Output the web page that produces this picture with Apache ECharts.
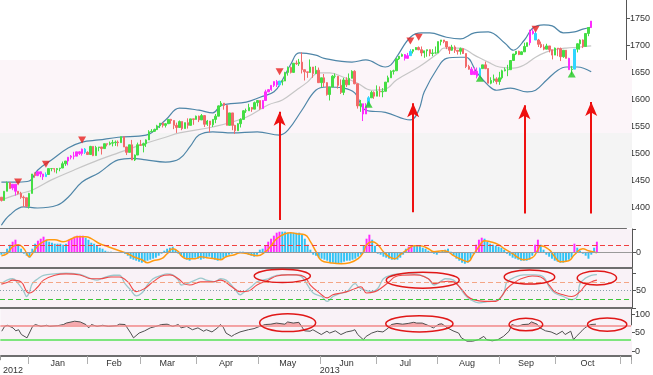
<!DOCTYPE html>
<html><head><meta charset="utf-8">
<script src="https://cdn.jsdelivr.net/npm/echarts@6/dist/echarts.min.js"></script>
<style>html,body{margin:0;padding:0;background:#fff}#c{width:653px;height:375px}</style>
</head><body><div id="c"></div>
<script>
// ---- daily candles [open, close, low, high], one array per month ----
const dec12=[[1419,1413,1411,1419],[1413,1430,1413,1430],[1430,1446,1430,1448],[1446,1435,1435,1447],[1436,1443,1432,1443],[1443,1430,1422,1443],[1430,1426,1424,1430],[1426,1419,1416,1429],[1419,1418,1401,1422],[1418,1402,1401,1418],[1402,1426,1398,1427]];
const jan13=[[1426,1462,1426,1462],[1462,1459,1455,1465],[1459,1466,1458,1467],[1466,1462,1456,1466],[1462,1457,1451,1462],[1457,1461,1457,1465],[1461,1472,1461,1472],[1472,1472,1467,1473],[1472,1471,1465,1472],[1470,1472,1463,1473],[1472,1473,1467,1473],[1473,1481,1473,1485],[1481,1486,1477,1486],[1486,1493,1478,1493],[1493,1495,1489,1497],[1495,1495,1489,1503],[1495,1503,1495,1503],[1503,1500,1497,1504],[1500,1508,1496,1509],[1508,1502,1499,1510],[1502,1498,1498,1504]];
const feb13=[[1498,1513,1498,1514],[1513,1496,1495,1513],[1496,1511,1496,1514],[1511,1512,1504,1512],[1512,1509,1498,1512],[1509,1518,1509,1518],[1518,1517,1513,1518],[1517,1519,1515,1522],[1519,1520,1513,1525],[1520,1521,1514,1524],[1521,1520,1513,1524],[1520,1531,1520,1531],[1531,1512,1512,1531],[1512,1502,1497,1512],[1502,1516,1502,1516],[1516,1488,1488,1525],[1488,1497,1486,1498],[1497,1516,1497,1520],[1516,1515,1514,1525]];
const mar13=[[1515,1518,1502,1520],[1518,1525,1512,1526],[1525,1540,1525,1543],[1540,1541,1540,1545],[1541,1544,1540,1546],[1544,1551,1544,1553],[1551,1556,1547,1556],[1556,1552,1548,1557],[1552,1555,1548,1556],[1555,1563,1555,1563],[1563,1561,1555,1564],[1561,1552,1545,1561],[1552,1548,1538,1557],[1548,1559,1548,1561],[1559,1546,1543,1559],[1546,1557,1546,1557],[1557,1552,1546,1565],[1552,1564,1552,1564],[1564,1563,1553,1564],[1563,1569,1563,1570]];
const apr13=[[1569,1562,1558,1570],[1562,1570,1562,1573],[1570,1554,1549,1571],[1554,1560,1551,1562],[1560,1553,1539,1560],[1553,1563,1549,1563],[1563,1569,1556,1573],[1569,1588,1569,1589],[1588,1593,1586,1597],[1593,1589,1581,1593],[1589,1552,1552,1589],[1552,1575,1552,1575],[1575,1552,1543,1575],[1552,1542,1536,1553],[1542,1555,1542,1556],[1555,1563,1548,1565],[1563,1579,1563,1580],[1579,1579,1575,1583],[1579,1585,1579,1592],[1585,1582,1577,1586],[1582,1594,1582,1596],[1594,1598,1587,1598]];
const may13=[[1598,1583,1581,1598],[1583,1598,1583,1599],[1598,1614,1598,1618],[1614,1618,1614,1619],[1618,1626,1616,1626],[1626,1633,1623,1633],[1633,1627,1623,1636],[1627,1634,1624,1634],[1634,1634,1626,1636],[1634,1650,1634,1651],[1650,1659,1644,1661],[1659,1650,1648,1661],[1650,1667,1650,1667],[1667,1666,1664,1672],[1666,1669,1662,1675],[1669,1655,1648,1687],[1655,1651,1635,1655],[1651,1650,1640,1651],[1650,1660,1658,1674],[1660,1648,1640,1660],[1648,1654,1649,1662],[1654,1631,1631,1659]];
const jun13=[[1631,1640,1622,1640],[1640,1631,1623,1647],[1631,1609,1607,1632],[1609,1623,1598,1623],[1623,1643,1623,1645],[1643,1643,1639,1648],[1643,1626,1620,1643],[1626,1613,1610,1637],[1613,1636,1608,1640],[1636,1627,1623,1641],[1627,1639,1627,1648],[1639,1652,1639,1654],[1652,1629,1628,1654],[1629,1588,1583,1629],[1588,1592,1577,1599],[1592,1573,1560,1592],[1573,1588,1573,1593],[1588,1603,1588,1606],[1603,1613,1603,1616],[1613,1606,1601,1615]];
const jul13=[[1606,1615,1606,1626],[1615,1614,1605,1624],[1614,1615,1604,1621],[1615,1632,1615,1632],[1632,1640,1632,1644],[1640,1652,1640,1654],[1652,1653,1646,1655],[1653,1675,1653,1676],[1675,1680,1673,1680],[1680,1683,1679,1685],[1683,1676,1672,1684],[1676,1681,1676,1686],[1681,1689,1681,1693],[1689,1692,1685,1693],[1692,1696,1692,1697],[1696,1692,1691,1698],[1692,1686,1680,1698],[1686,1690,1677,1690],[1690,1692,1679,1692],[1692,1685,1680,1690],[1685,1686,1680,1693],[1686,1686,1685,1698]];
const aug13=[[1686,1707,1686,1707],[1707,1710,1700,1710],[1710,1707,1704,1710],[1707,1697,1693,1708],[1697,1691,1684,1697],[1691,1697,1690,1701],[1697,1691,1686,1700],[1691,1689,1683,1691],[1689,1694,1683,1696],[1694,1685,1684,1694],[1685,1661,1658,1685],[1661,1656,1655,1664],[1656,1646,1646,1660],[1646,1652,1646,1659],[1652,1643,1639,1659],[1643,1657,1643,1659],[1657,1664,1657,1664],[1664,1657,1656,1670],[1657,1630,1630,1653],[1630,1635,1628,1641],[1635,1638,1631,1646],[1638,1633,1628,1641]];
const sep13=[[1633,1640,1627,1651],[1640,1653,1637,1655],[1653,1655,1652,1659],[1655,1655,1643,1664],[1655,1672,1655,1672],[1672,1684,1672,1684],[1684,1689,1682,1689],[1689,1683,1682,1690],[1683,1688,1683,1689],[1688,1698,1688,1705],[1698,1705,1698,1705],[1705,1726,1700,1729],[1726,1722,1720,1730],[1722,1710,1710,1725],[1710,1702,1697,1712],[1702,1697,1695,1707],[1697,1693,1691,1702],[1693,1699,1693,1703],[1699,1692,1687,1699],[1692,1682,1674,1692]];
const oct13=[[1682,1695,1682,1696],[1695,1694,1680,1694],[1694,1679,1671,1696],[1679,1691,1677,1691],[1691,1676,1676,1687],[1676,1655,1655,1677],[1655,1656,1646,1662],[1656,1693,1656,1693],[1693,1703,1687,1704],[1703,1710,1692,1711],[1710,1698,1695,1711],[1698,1722,1698,1722],[1722,1733,1717,1734],[1733,1745,1733,1745]];

// ---- overlays: [dayIndex, value] ----
const upperBand=[[0,1447],[6,1447],[10,1449],[13,1469],[18,1488],[24,1510],[29,1521],[35,1525],[42,1530],[52,1534],[59,1562],[64,1584],[71,1580],[76,1575],[79,1589],[88,1595],[93,1604],[98,1614],[101,1636],[104,1665],[107,1686],[113,1682],[116,1676],[126,1669],[131,1673],[138,1660],[140,1664],[142,1678],[147,1715],[151,1723],[154,1723],[160,1715],[165,1712],[170,1723],[175,1725],[181,1704],[184,1691],[188,1710],[191,1732],[195,1738],[198,1736],[202,1723],[206,1725],[209,1730],[212,1734]];
const lowerBand=[[0,1367],[3,1386],[8,1401],[13,1399],[20,1404],[24,1419],[29,1447],[35,1464],[42,1488],[47,1491],[52,1488],[59,1484],[64,1490],[68,1514],[71,1534],[76,1540],[83,1538],[92,1540],[100,1534],[103,1543],[108,1580],[113,1617],[117,1623],[123,1621],[127,1612],[131,1580],[138,1576],[147,1562],[150,1580],[152,1614],[157,1660],[160,1676],[165,1678],[167,1678],[171,1649],[175,1626],[178,1617],[183,1621],[189,1614],[192,1617],[196,1636],[200,1654],[203,1660],[207,1660],[212,1651]];
const midBand=[[0,1414],[7,1426],[11,1432],[18,1451],[26,1469],[35,1488],[42,1501],[52,1519],[59,1530],[64,1538],[76,1549],[88,1567],[96,1590],[101,1599],[106,1617],[110,1632],[114,1649],[118,1649],[123,1641],[128,1630],[133,1617],[138,1619],[142,1636],[150,1660],[157,1686],[159,1695],[165,1695],[170,1682],[175,1669],[179,1660],[184,1658],[188,1664],[192,1678],[196,1688],[200,1693],[203,1695],[208,1697],[212,1699]];
const sellSignals=[[6,1447],[16,1480],[29,1525],[100,1651],[147,1708],[150,1715],[192,1730]];
const buySignals=[[132,1591],[172,1639],[205,1647]];
const highlightDays=[4,5,13,14,15,24,25,26,27,28,29,94,95,96,97,98,99,130,131,145,146,169,170,171,190,191,204,212];
const cyanDays=[16,30,100,132,147,172,192,206];
const arrows=[[100,1377,1577],[148,1391,1593],[188,1389,1589],[212,1389,1595]];
const priceZones=[[1673,1538,'#fcf5f9'],[1538,1362,'#f4f4f4']];

// ---- indicator panels ----
const macdHist=[-2,-1,4,8,11,13,8,4,-1,-3, -5,4,9,12,14,16,13,11,10,9, 9,9,8,9,13,14,16,17,17,17, 15,13,10,9,7,5,4,2,1,1, 0,0,0,0,-1,-3,-6,-7,-8,-9, -10,-9,-8,-7,-6,-5,-3,-1,2,4, 5,6,3,-1,-3,-5,-7,-8,-6,-5, -6,-7,-6,-5,-4,-6,-7,-8,-7,-5, -4,-2,-1,0,0,1,1,0,-2,-3, -4,-2,3,4,7,11,14,17,20,21, 21,21,20,20,20,20,20,18,14,8, 3,-2,-3,-5,-6,-7,-8,-10,-10,-11, -11,-10,-9,-8,-8,-7,-6,-4,-2,7, 14,18,13,7,-1,-2,-4,-5,-6,-7, -7,-7,-5,-2,4,6,7,7,7,7, 5,4,2,1,-1,-2,0,2,3,4, 1,-3,-6,-8,-10,-11,-10,-6,-1,8, 13,15,14,11,9,8,7,6,5,3, -1,-3,-5,-6,-7,-8,-8,-8,-7,-3, 8,13,8,3,-2,-4,-6,-8,-9,-10, -10,-9,-7,-5,9,5,2,-1,-3,-6, -2,5,11];
const macdSignal=[[0,-3],[2,-1],[4,6],[6,8],[8,4],[10,-4],[11,-1],[13,7],[15,11],[17,13],[19,13],[22,11],[25,14],[27,16],[30,16],[32,14],[35,9],[38,6],[40,4],[42,2],[45,-1],[47,-4],[50,-7],[52,-10],[54,-8],[57,-6],[59,-1],[61,4],[63,1],[64,-3],[66,-6],[69,-6],[71,-4],[73,-5],[76,-6],[78,-7],[80,-4],[83,-2],[85,0],[89,-2],[91,-3],[94,1],[96,7],[98,14],[101,19],[103,20],[105,19],[108,18],[110,11],[112,1],[114,-8],[117,-10],[121,-11],[124,-10],[127,-6],[129,1],[130,8],[132,11],[134,8],[136,1],[138,-4],[140,-6],[142,-2],[145,4],[147,7],[149,7],[152,4],[154,1],[157,2],[159,1],[161,-3],[164,-7],[166,-9],[168,-2],[170,6],[172,12],[174,11],[177,8],[179,4],[182,-1],[184,-5],[186,-7],[189,-5],[191,3],[192,7],[195,3],[197,-4],[199,-9],[202,-8],[204,-2],[207,4],[209,2],[212,0]];
const stochK=[[0,70],[2,80],[4,84],[6,70],[8,47],[9,33],[10,47],[11,70],[13,84],[15,94],[19,98],[23,100],[27,98],[29,94],[32,84],[34,80],[36,86],[40,94],[42,94],[44,70],[46,52],[48,35],[50,43],[52,66],[54,84],[57,94],[59,98],[61,95],[63,80],[64,66],[66,70],[69,80],[71,86],[73,80],[76,75],[78,84],[80,80],[83,56],[85,38],[86,43],[89,61],[91,75],[95,84],[98,94],[102,96],[105,95],[107,89],[109,66],[111,43],[114,33],[116,19],[118,33],[121,43],[123,47],[126,70],[127,61],[129,52],[132,47],[134,56],[136,84],[139,95],[142,98],[146,98],[149,95],[152,84],[154,66],[157,80],[158,84],[161,80],[163,61],[165,38],[167,24],[170,15],[173,18],[177,24],[179,47],[180,75],[183,89],[186,95],[190,95],[193,89],[195,61],[197,43],[200,33],[203,24],[205,33],[206,70],[208,86],[210,94],[212,96]];
const stochD=[[0,68],[2,73],[4,80],[7,75],[9,47],[10,43],[13,61],[15,80],[19,94],[23,98],[28,95],[32,84],[35,84],[39,89],[42,89],[45,75],[47,52],[48,47],[51,56],[54,75],[58,94],[60,95],[63,84],[65,70],[67,66],[71,75],[75,75],[78,80],[82,61],[85,47],[88,49],[91,66],[95,80],[98,92],[102,95],[105,95],[108,89],[110,66],[113,45],[116,29],[118,38],[121,43],[123,47],[126,56],[128,61],[130,43],[133,47],[135,56],[138,75],[140,89],[143,94],[147,95],[149,94],[152,84],[154,70],[157,75],[159,77],[161,75],[164,52],[166,33],[168,24],[172,19],[176,19],[178,33],[180,56],[183,75],[185,84],[189,92],[192,89],[195,66],[197,47],[200,38],[203,33],[206,47],[208,66],[210,75],[212,80]];
const rsi=[[0,54],[1,67],[2,70],[4,63],[5,55],[6,58],[7,45],[9,36],[11,67],[12,72],[14,67],[16,70],[17,67],[20,69],[22,72],[23,76],[26,81],[28,79],[30,72],[31,63],[32,72],[34,67],[36,70],[38,67],[41,69],[42,73],[44,72],[46,49],[47,36],[49,49],[51,55],[53,63],[55,67],[57,72],[59,73],[61,67],[63,72],[64,63],[66,67],[68,58],[70,63],[72,54],[73,58],[75,52],[77,63],[78,72],[79,65],[80,49],[82,40],[83,45],[85,52],[88,58],[90,61],[92,67],[94,72],[96,73],[98,76],[101,73],[102,79],[104,76],[106,78],[108,55],[110,54],[111,58],[114,45],[116,54],[117,49],[119,55],[121,45],[123,52],[125,55],[126,58],[127,45],[129,31],[130,40],[132,49],[134,54],[136,52],[138,63],[139,72],[141,75],[143,73],[145,75],[147,78],[148,76],[150,76],[152,70],[154,63],[156,73],[157,74],[159,63],[161,55],[163,49],[164,36],[166,27],[168,27],[170,31],[172,40],[173,31],[175,28],[177,31],[179,40],[181,54],[182,72],[184,67],[186,72],[188,73],[189,79],[191,73],[192,63],[194,55],[196,52],[198,45],[200,54],[201,45],[203,54],[204,31],[205,40],[207,55],[208,63],[210,72],[212,73]];
const stochRings=[[100,92,10,19],[150,80,13,23],[188,89,9,20],[212,86,7,20]];
const rsiRings=[[102,77,10,24],[149,74,12,22],[187,72,6,17],[216,72,7,18]];

const priceTicks=[1400,1450,1500,1550,1600,1650,1700,1750];
const monthNames=['Dec','Jan','Feb','Mar','Apr','May','Jun','Jul','Aug','Sep','Oct'];
const yearNames=['2012','2013'];

// ---- build ----
const monthArrays=[dec12,jan13,feb13,mar13,apr13,may13,jun13,jul13,aug13,sep13,oct13];
const candles=monthArrays.flat();
const TOTAL=225;
const cats=[]; for(let i=0;i<TOTAL;i++) cats.push('d'+i);
const monthStart=[]; {let n=0; monthArrays.forEach(m=>{monthStart.push(n); n+=m.length;});}
const labelAt={}; const tickSet=new Set();
for(let m=1;m<monthArrays.length;m++){
  const len = m===monthArrays.length-1 ? 23 : monthArrays[m].length;
  labelAt[monthStart[m]+Math.round(len/2)-2]=monthNames[m];
  tickSet.add(monthStart[m]-1);
  if(m===monthArrays.length-1) tickSet.add(monthStart[m]+len-1);
}
const yearLabelAt={4:yearNames[0],117:yearNames[1]};
const yearTick=new Set([monthStart[1]-1]);
const hl=new Set(highlightDays), cy=new Set(cyanDays);
const solid=c=>({color:c,color0:c,borderColor:c,borderColor0:c});
const candleData=candles.map((c,i)=>{
  if(hl.has(i)) return {value:c,itemStyle:solid('#ff2bff')};
  if(cy.has(i)) return {value:c,itemStyle:solid('#2fd6ff')};
  return c;
});
const pairs=a=>a.map(p=>[cats[p[0]],p[1]]);
const FONT='Liberation Sans';
const lab={color:'#333',fontSize:9,fontFamily:FONT};
const PANEL='#f9f2f7';
const grids=[
  {left:0,width:632,top:0,height:228},
  {left:0,width:632,top:229,height:39},
  {left:0,width:632,top:269,height:39},
  {left:0,width:632,top:309,height:48}
];
grids.forEach((g,i)=>{g.show=true;g.borderWidth=0;g.backgroundColor=i===0?'#ffffff':PANEL;});
const xAx=i=>({type:'category',gridIndex:i,data:cats,boundaryGap:true,
  axisLine:{show:true,onZero:false,lineStyle:{color:'#6e6e6e',width:2}},
  axisTick:{show:false},axisLabel:{show:false},splitLine:{show:false}});
const xAxes=[xAx(0),xAx(1),xAx(2),xAx(3)];
xAxes[3].axisTick={show:true,interval:(i)=>tickSet.has(i),length:8,lineStyle:{color:'#b0b0b0'}};
xAxes[3].axisLabel=Object.assign({show:true,margin:3,interval:(i)=>labelAt[i]!==undefined,formatter:(v,i)=>labelAt[i]||''},lab);
xAxes.push({type:'category',gridIndex:3,data:cats,boundaryGap:true,position:'bottom',offset:9,
  axisLine:{show:false},axisTick:{show:true,interval:(i)=>yearTick.has(i),length:9,lineStyle:{color:'#999'}},
  axisLabel:Object.assign({show:true,margin:1,interval:(i)=>yearLabelAt[i]!==undefined,formatter:(v,i)=>yearLabelAt[i]||''},lab)});
const yAx=(i,min,max,labels,ticks)=>({type:'value',gridIndex:i,position:'right',min,max,scale:true,
  axisLine:{show:true,lineStyle:{color:'#555'}},splitLine:{show:false},
  axisTick:{show:true,length:4,lineStyle:{color:'#555'},customValues:ticks},
  axisLabel:Object.assign({show:true,margin:4,customValues:labels,formatter:v=>String(v)},lab)});
const yAxes=[yAx(0,1362,1784,priceTicks,priceTicks),yAx(1,-15.3,23.7,[0],[0,23.7]),yAx(2,0,112,[50],[0,50,100]),yAx(3,-13,114,[0,50,100],[0,50,100])];
const hline=(v,color,type,width)=>({yAxis:v,lineStyle:{color,type,width}});
const ml=(data)=>({silent:true,symbol:['none','none'],label:{show:false},data});

const series=[
  {type:'candlestick',xAxisIndex:0,yAxisIndex:0,barWidth:'70%',data:candleData,z:3,
   itemStyle:{color:'#44de44',color0:'#f26a6a',borderColor:'#44de44',borderColor0:'#f26a6a',borderWidth:1},
   markLine:{silent:true,symbol:['none','arrow'],symbolSize:[9,14],label:{show:false},animation:false,
     lineStyle:{color:'#ee1010',width:2,type:'solid'},
     data:arrows.map(a=>[{coord:[cats[a[0]],a[1]]},{coord:[cats[a[0]],a[2]]}])}},
  {type:'line',xAxisIndex:0,yAxisIndex:0,data:pairs(midBand),smooth:0.4,showSymbol:false,lineStyle:{color:'#c6c6c6',width:1.2},z:2},
  {type:'line',xAxisIndex:0,yAxisIndex:0,data:pairs(upperBand),smooth:0.4,showSymbol:false,lineStyle:{color:'#4f86a8',width:1.2},z:2},
  {type:'line',xAxisIndex:0,yAxisIndex:0,data:pairs(lowerBand),smooth:0.4,showSymbol:false,lineStyle:{color:'#4f86a8',width:1.2},z:2},
  {type:'scatter',xAxisIndex:0,yAxisIndex:0,data:pairs(sellSignals),symbol:'triangle',symbolRotate:180,symbolSize:[8,7],itemStyle:{color:'#e81e1e'},z:4},
  {type:'scatter',xAxisIndex:0,yAxisIndex:0,data:pairs(buySignals),symbol:'triangle',symbolSize:[8,7],itemStyle:{color:'#22c822'},z:4},
  {type:'bar',xAxisIndex:1,yAxisIndex:1,barWidth:'70%',
   data:macdHist.map((v,i)=>({value:v,itemStyle:{color:hl.has(i)?'#ff2bff':'#2fc3f5'}})),
   markLine:ml([hline(0,'#9a9a9a','solid',1),hline(7.3,'#f04040',[5,3],1)])},
  {type:'line',xAxisIndex:1,yAxisIndex:1,data:pairs(macdSignal),smooth:0.5,showSymbol:false,lineStyle:{color:'#ff9a10',width:1.5},z:4},
  {type:'line',xAxisIndex:2,yAxisIndex:2,data:pairs(stochK),smooth:0.4,showSymbol:false,lineStyle:{color:'#9cc8cc',width:1.3},
   markLine:ml([hline(75,'#f4a585',[5,3],1.2),hline(50,'#8aa0aa',[1,2],1),hline(25,'#3cc83c',[5,3],1.2)])},
  {type:'line',xAxisIndex:2,yAxisIndex:2,data:pairs(stochD),smooth:0.4,showSymbol:false,lineStyle:{color:'#f04848',width:1.1}},
  {type:'line',xAxisIndex:3,yAxisIndex:3,data:pairs(rsi),showSymbol:false,lineStyle:{width:0,opacity:0},itemStyle:{opacity:0},
   areaStyle:{origin:70,color:'#f5a9ae',opacity:1},z:1},
  {type:'line',xAxisIndex:3,yAxisIndex:3,data:pairs(rsi),showSymbol:false,lineStyle:{color:'#505050',width:1},z:3,
   markLine:ml([hline(70,'#f28a8a','solid',1.5),hline(30,'#55e055','solid',1.5)])}
];

const chart=echarts.init(document.getElementById('c'),null,{renderer:'canvas'});
chart.setOption({animation:false,backgroundColor:'#ffffff',grid:grids,xAxis:xAxes,yAxis:yAxes,series});

function ring(grid,r){
  const c=chart.convertToPixel({gridIndex:grid},[cats[r[0]],r[1]]);
  const px=chart.convertToPixel({gridIndex:grid},[cats[r[0]+r[2]],r[1]]);
  const py=chart.convertToPixel({gridIndex:grid},[cats[r[0]],r[1]+r[3]]);
  return {type:'ellipse',shape:{cx:c[0],cy:c[1],rx:Math.abs(px[0]-c[0]),ry:Math.abs(c[1]-py[1])},
    style:{fill:null,stroke:'#e01818',lineWidth:1.5},silent:true,z:100};
}
const gY=(grid,v)=>chart.convertToPixel({gridIndex:grid},[cats[0],v])[1];
const zoneRects=priceZones.map(z=>{const a=gY(0,z[0]),b=gY(0,z[1]);
  return {type:'rect',silent:true,z:1,shape:{x:0,y:a,width:632,height:b-a},style:{fill:z[2]}};});
const r70=gY(3,70), rBot=gY(3,-13);
const cover={type:'rect',silent:true,z:2,shape:{x:0,y:r70,width:632,height:rBot-r70-1},style:{fill:PANEL}};
chart.setOption({graphic:[...zoneRects,cover,...stochRings.map(r=>ring(2,r)),...rsiRings.map(r=>ring(3,r))]});
</script></body></html>
